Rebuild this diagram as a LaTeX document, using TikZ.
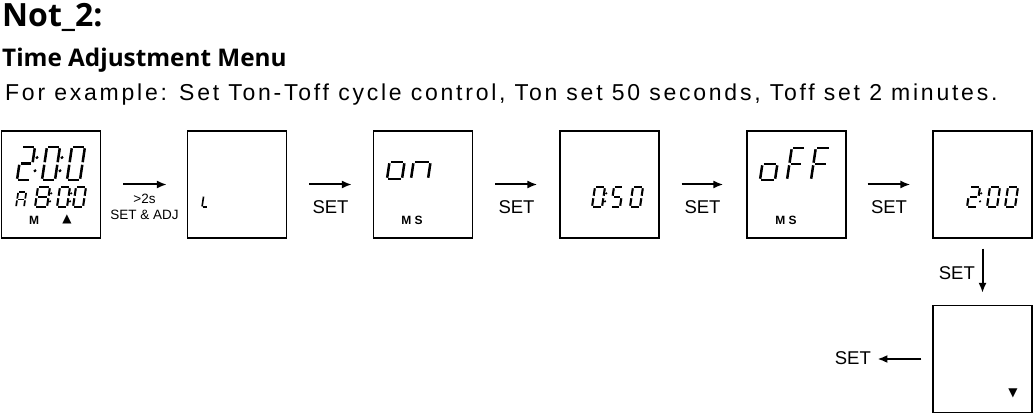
\documentclass[tikz,border=0pt]{standalone}
\usepackage{fontspec}
\setmainfont{Liberation Sans}
\newfontfamily\osans{Open Sans}
\newfontfamily\djv{DejaVu Sans}
\newfontfamily\spaced[LetterSpace=12]{Liberation Sans}
\usetikzlibrary{arrows.meta}
\tikzset{
  lcd/.style={draw, line width=1.2pt, minimum width=99pt, minimum height=107pt, inner sep=0pt},
  arr/.style={line width=2pt, -{Latex[length=10pt,width=8pt]}},
  lbl/.style={font=\fontsize{18.5}{20}\selectfont, inner sep=0pt, anchor=base},
  sml/.style={font=\fontsize{13.5}{14}\selectfont, inner sep=0pt, anchor=base},
  ms/.style={font=\bfseries\fontsize{12}{13}\selectfont, inner sep=0pt, anchor=base},
  seg/.style={line cap=butt, shorten <=1.3pt, shorten >=1.3pt}
}
% seven segment helpers
\makeatletter
\def\sg@a{\draw[seg] (0,\H)--(\W,\H);}
\def\sg@b{\draw[seg] (\W,\H)--(\W,\M);}
\def\sg@c{\draw[seg] (\W,\M)--(\W,0);}
\def\sg@d{\draw[seg] (0,0)--(\W,0);}
\def\sg@e{\draw[seg] (0,0)--(0,\M);}
\def\sg@f{\draw[seg] (0,\M)--(0,\H);}
\def\sg@g{\draw[seg] (0,\M)--(\W,\M);}
\def\sg@k{\fill (\W+0.11*\H,0.28*\H) circle ({0.035*\H+0.5}); \fill (\W+0.11*\H,0.68*\H) circle ({0.035*\H+0.5});}
% [#1] extra options, #2 x, #3 y (bottom, px down), #4 width, #5 height, #6 line width, #7 segments
\newcommand\lcddigit[7][]{%
  \begin{scope}[shift={(#2,#3)}, yscale=-1, xslant=-0.15, line width=#6, #1]
    \def\W{#4}\def\H{#5}\pgfmathsetmacro\M{#5/2}%
    \foreach \s in {#7}{\csname sg@\s\endcsname}%
  \end{scope}}
\makeatother
\begin{document}
\begin{tikzpicture}[x=1pt, y=-1pt]
\useasboundingbox (0,0) rectangle (1033,414);
% titles
\node[anchor=base west, inner sep=0pt, font=\osans\bfseries\fontsize{32}{34}\selectfont] (t1) at (2,27) {Not\_2:};
\node[anchor=base west, inner sep=0pt, font=\osans\bfseries\fontsize{24.3}{26}\selectfont] (t2) at (2,67) {Time Adjustment Menu};
\node[anchor=base west, inner sep=0pt, font=\spaced\fontsize{23}{25}\selectfont] (t3) at (5,101) {For example: Set Ton-Toff cycle control, Ton set 50 seconds, Toff set 2 minutes.};
% boxes
\node[lcd] (b1) at (51,184.5) {};
\node[lcd] (b2) at (237,184.5) {};
\node[lcd] (b3) at (423,184.5) {};
\node[lcd] (b4) at (609.5,184.5) {};
\node[lcd] (b5) at (796.5,184.5) {};
\node[lcd] (b6) at (982.5,184.5) {};
\node[lcd] (b7) at (982.5,359) {};
% arrows
\draw[arr] ([xshift=22pt]b1.east) -- ([xshift=-20pt]b2.west);
\draw[arr] ([xshift=22pt]b2.east) -- ([xshift=-21pt]b3.west);
\draw[arr] ([xshift=22pt]b3.east) -- ([xshift=-22pt]b4.west);
\draw[arr] ([xshift=22pt]b4.east) -- ([xshift=-23pt]b5.west);
\draw[arr] ([xshift=21pt]b5.east) -- ([xshift=-22pt]b6.west);
\draw[arr] ([yshift=-10pt]b6.south) -- ([yshift=12pt]b7.north);
\draw[arr] ([xshift=-11pt]b7.west) -- ([xshift=-55pt]b7.west);
% labels
\node[sml] (l1a) at (144.5,204) {>2s};
\node[sml] (l1b) at (144.5,219.5) {SET \& ADJ};
\node[lbl] (l2) at (330.5,213.5) {SET};
\node[lbl] (l3) at (516.5,213.5) {SET};
\node[lbl] (l4) at (702.5,213.5) {SET};
\node[lbl] (l5) at (889,213.5) {SET};
\node[lbl, anchor=base east] (l6) at (975,279.5) {SET};
\node[lbl, anchor=base east] (l7) at (871,364.5) {SET};
% box 1 contents
\lcddigit{17}{180}{13}{33}{2.5pt}{a,b,g,e,d,k}
\lcddigit{42}{180}{13}{33}{2.5pt}{a,b,c,d,e,f,k}
\lcddigit{67}{180}{13}{33}{2.5pt}{a,b,c,d,e,f}
\lcddigit[seg/.append style={shorten <=0.9pt, shorten >=0.9pt}]{16}{207}{8}{15}{1.7pt}{a,b,c,e,f,g}
\lcddigit{35}{207}{12}{20}{2.1pt}{a,b,c,d,e,f,g,k}
\lcddigit{57}{207}{10}{20}{2.1pt}{a,b,c,d,e,f,k}
\lcddigit{73}{207}{10}{20}{2.1pt}{a,b,c,d,e,f}
\node[ms] (m1) at (34,224) {M};
\node[inner sep=0pt, font=\djv\fontsize{12}{13}\selectfont] (tri1) at (67,219.5) {▲};
% box 2
\lcddigit[seg/.append style={shorten <=0.6pt, shorten >=0.6pt}]{202}{207}{6}{22}{1.6pt}{e,d}
% box 3
\lcddigit{387}{179}{15}{34}{2.5pt}{c,d,e,g}
\lcddigit{411}{179}{17}{34}{2.5pt}{c,e,g}
\node[ms] (m3) at (412,224) {M S};
% box 4
\lcddigit{592}{207}{10}{20}{2.1pt}{a,b,c,d,e,f,k}
\lcddigit{611}{207}{9}{20}{2.1pt}{a,f,g,c,d}
\lcddigit{630}{207}{10}{20}{2.1pt}{a,b,c,d,e,f}
% box 5
\lcddigit{760}{180}{15}{32}{2.5pt}{c,d,e,g}
\lcddigit{787}{180}{13}{32}{2.5pt}{a,e,f,g}
\lcddigit{811}{180}{14}{32}{2.5pt}{a,e,f,g}
\node[ms] (m5) at (786,224) {M S};
% box 6
\lcddigit{967}{207}{10}{20}{2.1pt}{a,b,g,e,d,k}
\lcddigit{987}{207}{10}{20}{2.1pt}{a,b,c,d,e,f}
\lcddigit{1005}{207}{10}{20}{2.1pt}{a,b,c,d,e,f}
% box 7
\node[inner sep=0pt, font=\djv\fontsize{12}{13}\selectfont] (tri7) at (1013,393) {▼};
\end{tikzpicture}
\end{document}
